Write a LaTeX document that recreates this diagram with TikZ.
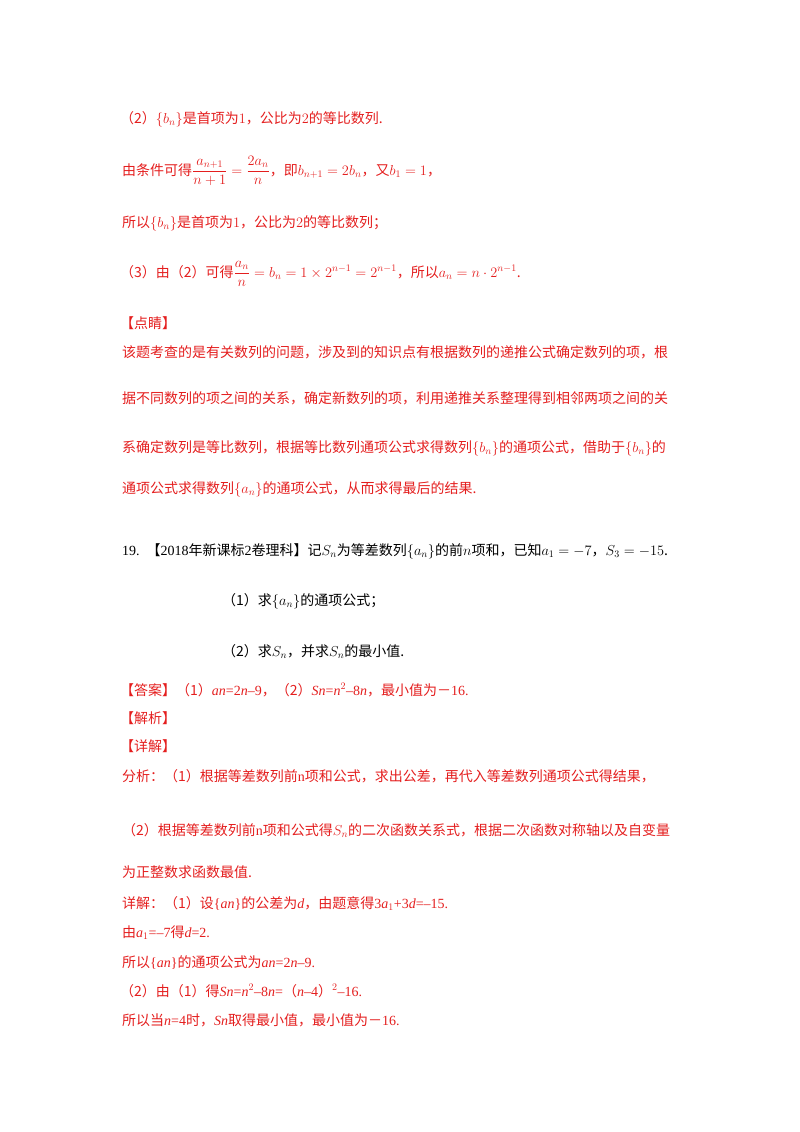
\documentclass[tikz,border=0pt]{standalone}
\usepackage{fontspec}
\setmainfont{Liberation Serif}
\newfontfamily\cjk{Noto Sans CJK SC}
\newcommand\li[1]{{\rmfamily\itshape #1}}
\newcommand\lr[1]{{\rmfamily #1}}
\definecolor{rd}{RGB}{228,30,30}
\begin{document}
\begin{tikzpicture}[x=1pt,y=-1pt,
  t/.style={anchor=base west,inner sep=0pt,font=\fontsize{14}{14}\selectfont},
  r/.style={t,text=rd},
  b/.style={t,text=black}]
\useasboundingbox (0,0) rectangle (800,1132);
\node[r] (l1) at (120,123) {\cjk （2）$\{b_n\}$是首项为$1$，公比为$2$的等比数列.};
\node[r] (l2) at (122,175) {\cjk 由条件可得$\displaystyle\frac{a_{n+1}}{n+1}=\frac{2a_n}{n}$，即$b_{n+1}=2b_n$，又$b_1=1$，};
\node[r] (l3) at (122,227) {\cjk 所以$\{b_n\}$是首项为$1$，公比为$2$的等比数列；};
\node[r] (l4) at (120,277) {\cjk （3）由（2）可得$\displaystyle\frac{a_n}{n}=b_n=1\times2^{n-1}=2^{n-1}$，所以$a_n=n\cdot2^{n-1}$.};
\node[r] (l5) at (120,328) {\cjk 【点睛】};
\node[r] (l6) at (122,357) {\cjk 该题考查的是有关数列的问题，涉及到的知识点有根据数列的递推公式确定数列的项，根};
\node[r] (l7) at (122,403) {\cjk 据不同数列的项之间的关系，确定新数列的项，利用递推关系整理得到相邻两项之间的关};
\node[r] (l8) at (122,452) {\cjk 系确定数列是等比数列，根据等比数列通项公式求得数列$\{b_n\}$的通项公式，借助于$\{b_n\}$的};
\node[r] (l9) at (122,493) {\cjk 通项公式求得数列$\{a_n\}$的通项公式，从而求得最后的结果.};
\node[b] (q0) at (122,555) {19.\ \ \cjk 【\lr{2018}年新课标\lr{2}卷理科】记$S_n$为等差数列$\{a_n\}$的前$n$项和，已知$a_1=-7$，$S_3=-15$.};
\node[b] (q1) at (222,605) {\cjk （1）求$\{a_n\}$的通项公式；};
\node[b] (q2) at (222,656) {\cjk （2）求$S_n$，并求$S_n$的最小值.};
\node[r] (a1) at (120,695) {\cjk 【答案】（1）\li{an}\lr{=2}\li{n}\lr{–9}，（2）\li{Sn}\lr{=}\li{n}$^2$\lr{–8}\li{n}，最小值为－\lr{16.}};
\node[r] (a2) at (120,723) {\cjk 【解析】};
\node[r] (a3) at (120,751) {\cjk 【详解】};
\node[r] (a4) at (122,781) {\cjk 分析：（1）根据等差数列前\lr{n}项和公式，求出公差，再代入等差数列通项公式得结果，};
\node[r] (a5) at (122,835) {\cjk （2）根据等差数列前\lr{n}项和公式得$S_n$的二次函数关系式，根据二次函数对称轴以及自变量};
\node[r] (a6) at (122,877) {\cjk 为正整数求函数最值.};
\node[r] (a7) at (122,908) {\cjk 详解：（1）设\lr{\{}\li{an}\lr{\}}的公差为\li{d}，由题意得\lr{3}\li{a}$_1$\lr{+3}\li{d}\lr{=–15.}};
\node[r] (a8) at (122,937) {\cjk 由\li{a}$_1$\lr{=–7}得\li{d}\lr{=2.}};
\node[r] (a9) at (122,967) {\cjk 所以\lr{\{}\li{an}\lr{\}}的通项公式为\li{an}\lr{=2}\li{n}\lr{–9.}};
\node[r] (a10) at (120,996) {\cjk （2）由（1）得\li{Sn}\lr{=}\li{n}$^2$\lr{–8}\li{n}\lr{=}（\li{n}\lr{–4}）$^2$\lr{–16.}};
\node[r] (a11) at (122,1025) {\cjk 所以当\li{n}\lr{=4}时，\li{Sn}取得最小值，最小值为－\lr{16.}};
\end{tikzpicture}
\end{document}
